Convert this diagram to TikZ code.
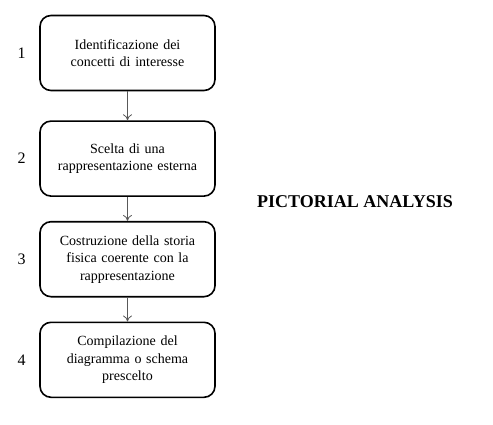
\documentclass[tikz,border=0pt]{standalone}
\usepackage{fontspec}
\setmainfont{Liberation Serif}
\usetikzlibrary{positioning, arrows.meta}

\begin{document}
\begin{tikzpicture}[x=1pt, y=1pt, node distance=24pt,
    fase/.style={draw, line width=1.6pt, rounded corners=11pt, align=center,
        minimum width=175pt, minimum height=75pt, text width=165pt,
        font=\fontsize{14}{17.5}\selectfont},
    num/.style={font=\fontsize{16}{18}\selectfont},
    freccia/.style={-{To[length=6pt, width=9pt]}, draw=black!65, line width=0.8pt}]
    %
    \useasboundingbox (0,0) rectangle (493,424);
    %
    \node [fase] (f1) at (127.5,371) {Identificazione dei\\concetti di interesse};
    \node [fase, below=29pt of f1] (f2) {Scelta di una\\rappresentazione esterna};
    \node [fase, below=of f2] (f3) {Costruzione della storia\\fisica coerente con la\\rappresentazione};
    \node [fase, below=of f3] (f4) {Compilazione del\\diagramma o schema\\prescelto};
    %
    \node [num, left=10pt of f1] (n1) {1};
    \node [num, left=10pt of f2] (n2) {2};
    \node [num, left=10pt of f3] (n3) {3};
    \node [num, left=10pt of f4] (n4) {4};
    %
    \path [freccia] (f1) edge (f2);
    \path [freccia] (f2) edge (f3);
    \path [freccia] (f3) edge (f4);
    %
    \node [font=\bfseries\fontsize{18}{20}\selectfont] (titolo) at (355,222) {PICTORIAL ANALYSIS};
\end{tikzpicture}
\end{document}
